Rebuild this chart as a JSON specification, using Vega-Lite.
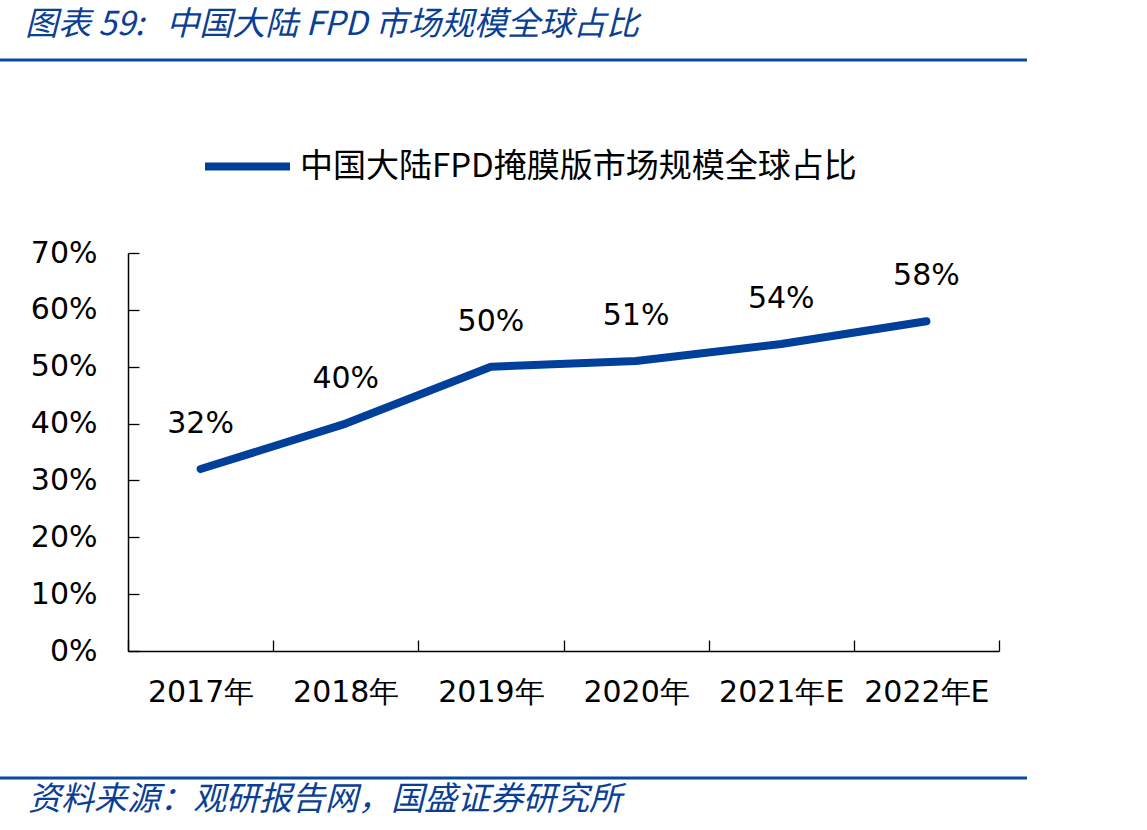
{
  "$schema": "https://vega.github.io/schema/vega-lite/v6.json",
  "width": 871,
  "height": 398,
  "autosize": "none",
  "padding": {"left": 128, "top": 253, "right": 148, "bottom": 179},
  "background": "white",
  "config": {
    "view": {"stroke": null},
    "font": "DejaVu Sans"
  },
  "resolve": {"scale": {"x": "independent", "y": "independent", "color": "independent"}},
  "layer": [
    {
      "data": {
        "values": [
          {"year": "2017年", "share": 0.32, "series": "中国大陆FPD掩膜版市场规模全球占比"},
          {"year": "2018年", "share": 0.40, "series": "中国大陆FPD掩膜版市场规模全球占比"},
          {"year": "2019年", "share": 0.50, "series": "中国大陆FPD掩膜版市场规模全球占比"},
          {"year": "2020年", "share": 0.51, "series": "中国大陆FPD掩膜版市场规模全球占比"},
          {"year": "2021年E", "share": 0.54, "series": "中国大陆FPD掩膜版市场规模全球占比"},
          {"year": "2022年E", "share": 0.58, "series": "中国大陆FPD掩膜版市场规模全球占比"}
        ]
      },
      "encoding": {
        "x": {
          "field": "year",
          "type": "ordinal",
          "sort": null,
          "scale": {"paddingInner": 0, "paddingOuter": 0},
          "axis": {
            "title": null,
            "labelAngle": 0,
            "labelFont": "DejaVu Sans",
            "labelFontSize": 30,
            "labelColor": "#000000",
            "labelPadding": 37,
            "tickBand": "extent",
            "tickSize": -11,
            "tickColor": "#000000",
            "tickWidth": 1.3,
            "domainColor": "#000000",
            "domainWidth": 1.5,
            "grid": false
          }
        },
        "y": {
          "field": "share",
          "type": "quantitative",
          "scale": {"domain": [0, 0.7]},
          "axis": {
            "title": null,
            "format": ".0%",
            "values": [0, 0.1, 0.2, 0.3, 0.4, 0.5, 0.6, 0.7],
            "labelFont": "DejaVu Sans",
            "labelFontSize": 30,
            "labelColor": "#000000",
            "labelPadding": 42,
            "tickSize": -11,
            "tickColor": "#000000",
            "tickWidth": 1.3,
            "domainColor": "#000000",
            "domainWidth": 1.5,
            "grid": false
          }
        }
      },
      "layer": [
        {
          "mark": {"type": "line", "strokeWidth": 8, "strokeCap": "round", "strokeJoin": "round"},
          "encoding": {
            "color": {
              "field": "series",
              "type": "nominal",
              "scale": {"range": ["#00409A"]},
              "legend": {
                "title": null,
                "orient": "none",
                "legendX": 73,
                "legendY": -133,
                "padding": 0,
                "symbolType": "stroke",
                "symbolSize": 7225,
                "symbolStrokeWidth": 8,
                "labelFont": "Noto Sans CJK SC",
                "labelFontSize": 33,
                "labelColor": "#000000",
                "labelOffset": 6,
                "labelLimit": 900
              }
            }
          }
        },
        {
          "mark": {"type": "text", "font": "DejaVu Sans", "fontSize": 30, "color": "#000000", "baseline": "middle", "dy": -45},
          "encoding": {
            "text": {"field": "share", "type": "quantitative", "format": ".0%"}
          }
        }
      ]
    },
    {
      "data": {
        "values": [
          {"part": "header", "x": 0, "x2": 1, "y": 0, "tx": 0.0243, "ty": -0.049, "label": "图表 59:\u00a0\u00a0 中国大陆 FPD 市场规模全球占比"},
          {"part": "footer", "x": 0, "x2": 1, "y": 1, "tx": 0.0273, "ty": 1.0306, "label": "资料来源：观研报告网，国盛证券研究所"}
        ]
      },
      "layer": [
        {
          "mark": {"type": "rule", "strokeWidth": 3, "color": "#0A4A9C"},
          "encoding": {
            "x": {"field": "x", "type": "quantitative", "scale": {"domain": [0, 1], "range": [-128, 899]}, "axis": null},
            "x2": {"field": "x2"},
            "y": {"field": "y", "type": "quantitative", "scale": {"domain": [0, 1], "range": [-193, 525]}, "axis": null}
          }
        },
        {
          "mark": {"type": "text", "font": "Noto Sans CJK SC", "fontStyle": "italic", "fontSize": 33, "color": "#0A3F96", "align": "left", "baseline": "middle"},
          "encoding": {
            "x": {"field": "tx", "type": "quantitative", "scale": {"domain": [0, 1], "range": [-128, 899]}, "axis": null},
            "y": {"field": "ty", "type": "quantitative", "scale": {"domain": [0, 1], "range": [-193, 525]}, "axis": null},
            "text": {"field": "label", "type": "nominal"}
          }
        }
      ]
    }
  ]
}
